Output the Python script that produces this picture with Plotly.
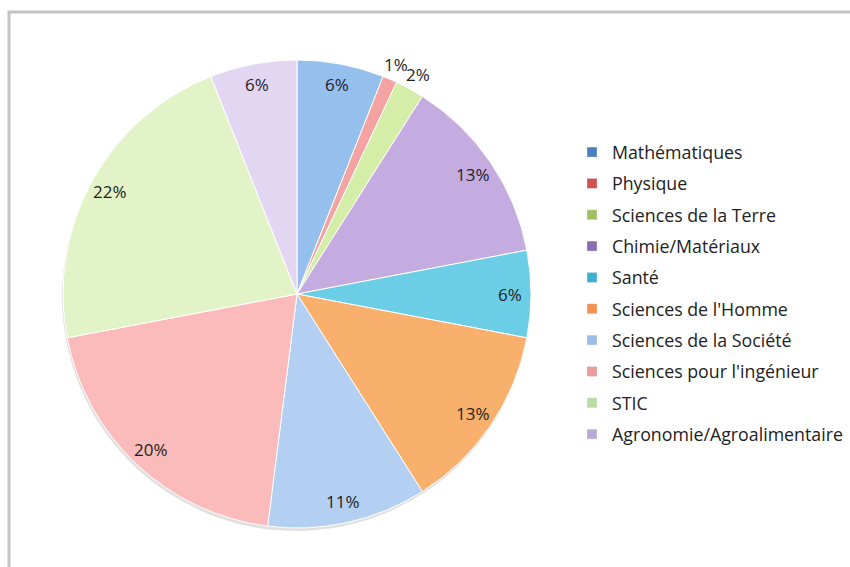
import math
import plotly.graph_objects as go

# Répartition par discipline (%)
labels = [
    "Mathématiques",
    "Physique",
    "Sciences de la Terre",
    "Chimie/Matériaux",
    "Santé",
    "Sciences de l'Homme",
    "Sciences de la Société",
    "Sciences pour l'ingénieur",
    "STIC",
    "Agronomie/Agroalimentaire",
]
values = [6, 1, 2, 13, 6, 13, 11, 20, 22, 6]
label_outside = [False, True, True, False, False,
                 False, False, False, False, False]

slice_colors = ["#95bfed", "#f4a2a2", "#d4eea8", "#c4ace0", "#6ccee6",
                "#f9b06c", "#b3cff2", "#fbbbbb", "#e2f3c8", "#e2d6f3"]
swatch_colors = ["#4a7fc0", "#d05252", "#9cc062", "#8a6db0", "#3cb0d0",
                 "#f29250", "#9dbde6", "#e89c9c", "#badca2", "#baa9d8"]

W, H = 850, 567
FONT = "Open Sans"

# pie geometry in pixels
CX, CY, R = 297, 294, 234

fig = go.Figure()

fig.add_trace(go.Pie(
    labels=labels,
    values=values,
    sort=False,
    direction="clockwise",
    rotation=0,
    marker=dict(colors=slice_colors, line=dict(color="#ffffff", width=1)),
    textinfo="none",
    domain=dict(x=[(CX - R) / W, (CX + R) / W],
                y=[1 - (CY + R) / H, 1 - (CY - R) / H]),
    showlegend=False,
    hoverinfo="label+percent",
))

# percentage labels placed near the rim of each slice
total = sum(values)
annotations = []
cum = 0.0
for v, outside in zip(values, label_outside):
    mid = (cum + v / 2) / total * 2 * math.pi
    cum += v
    k = 1.07 if outside else 0.91
    px = CX + k * R * math.sin(mid)
    py = CY - k * R * math.cos(mid)
    annotations.append(dict(
        x=px / W, y=1 - py / H, xref="paper", yref="paper",
        text=f"{round(100 * v / total)}%", showarrow=False,
        xanchor="center", yanchor="middle",
        font=dict(family=FONT, size=17, color="#1e1e1e"),
    ))

# legend entries, one group each so the rows can be spaced out
for name, col in zip(labels, swatch_colors):
    fig.add_trace(go.Scatter(
        x=[None], y=[None], mode="markers",
        marker=dict(symbol="square", size=10, color=col,
                    line=dict(color="rgba(255,255,255,0.6)", width=0.5)),
        name=name, legendgroup=name, showlegend=True,
    ))

fig.update_layout(
    width=W, height=H,
    margin=dict(l=0, r=0, t=0, b=0, autoexpand=False),
    paper_bgcolor="#ffffff",
    plot_bgcolor="#ffffff",
    xaxis=dict(visible=False),
    yaxis=dict(visible=False),
    annotations=annotations,
    legend=dict(
        x=572 / W, xanchor="left",
        y=1 - 134 / H, yanchor="top",
        font=dict(family=FONT, size=17.8, color="#222222"),
        tracegroupgap=5.2,
        itemwidth=30,
        bgcolor="rgba(0,0,0,0)",
    ),
    shapes=[
        # chart frame
        dict(type="rect", xref="paper", yref="paper",
             x0=9 / W, x1=1.05, y0=-0.05, y1=1 - 12 / H,
             line=dict(color="#c4c4c4", width=3),
             fillcolor="rgba(0,0,0,0)", layer="below"),
        # soft drop shadow under the pie
        dict(type="circle", xref="paper", yref="paper",
             x0=(CX - R - 1) / W, x1=(CX + R - 1) / W,
             y0=1 - (CY + R + 3) / H, y1=1 - (CY - R + 3) / H,
             line=dict(width=0), fillcolor="rgba(0,0,0,0.12)",
             layer="below"),
    ],
)

fig.write_html("out.html")
